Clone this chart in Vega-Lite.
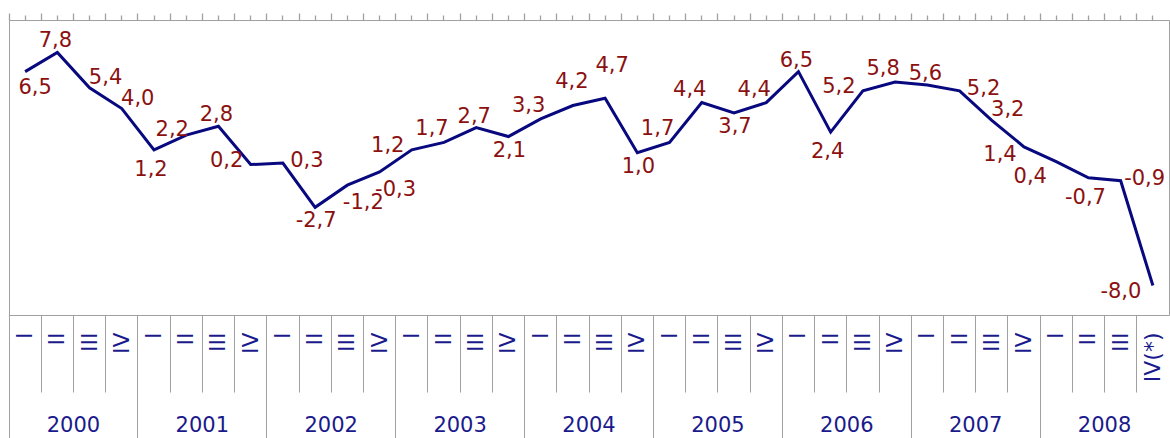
{
  "$schema": "https://vega.github.io/schema/vega-lite/v6.json",
  "width": 1160,
  "height": 295,
  "autosize": "none",
  "padding": {"left": 9, "top": 20, "right": 1, "bottom": 123},
  "background": "white",
  "config": {
    "view": {"stroke": "#a0a0a0", "strokeWidth": 1},
    "font": "DejaVu Sans",
    "text": {"fontSize": 21, "font": "DejaVu Sans", "color": "#8b1111", "align": "center", "baseline": "middle"},
    "locale": {"number": {"decimal": ",", "thousands": ".", "grouping": [3], "currency": ["", ""], "minus": "-"}}
  },
  "data": {"values": [
    {"q": "2000-I", "year": 2000, "value": 6.5},
    {"q": "2000-II", "year": 2000, "value": 7.8},
    {"q": "2000-III", "year": 2000, "value": 5.4},
    {"q": "2000-IV", "year": 2000, "value": 4.0},
    {"q": "2001-I", "year": 2001, "value": 1.2},
    {"q": "2001-II", "year": 2001, "value": 2.2},
    {"q": "2001-III", "year": 2001, "value": 2.8},
    {"q": "2001-IV", "year": 2001, "value": 0.2},
    {"q": "2002-I", "year": 2002, "value": 0.3},
    {"q": "2002-II", "year": 2002, "value": -2.7},
    {"q": "2002-III", "year": 2002, "value": -1.2},
    {"q": "2002-IV", "year": 2002, "value": -0.3},
    {"q": "2003-I", "year": 2003, "value": 1.2},
    {"q": "2003-II", "year": 2003, "value": 1.7},
    {"q": "2003-III", "year": 2003, "value": 2.7},
    {"q": "2003-IV", "year": 2003, "value": 2.1},
    {"q": "2004-I", "year": 2004, "value": 3.3},
    {"q": "2004-II", "year": 2004, "value": 4.2},
    {"q": "2004-III", "year": 2004, "value": 4.7},
    {"q": "2004-IV", "year": 2004, "value": 1.0},
    {"q": "2005-I", "year": 2005, "value": 1.7},
    {"q": "2005-II", "year": 2005, "value": 4.4},
    {"q": "2005-III", "year": 2005, "value": 3.7},
    {"q": "2005-IV", "year": 2005, "value": 4.4},
    {"q": "2006-I", "year": 2006, "value": 6.5},
    {"q": "2006-II", "year": 2006, "value": 2.4},
    {"q": "2006-III", "year": 2006, "value": 5.2},
    {"q": "2006-IV", "year": 2006, "value": 5.8},
    {"q": "2007-I", "year": 2007, "value": 5.6},
    {"q": "2007-II", "year": 2007, "value": 5.2},
    {"q": "2007-III", "year": 2007, "value": 3.2},
    {"q": "2007-IV", "year": 2007, "value": 1.4},
    {"q": "2008-I", "year": 2008, "value": 0.4},
    {"q": "2008-II", "year": 2008, "value": -0.7},
    {"q": "2008-III", "year": 2008, "value": -0.9},
    {"q": "2008-IV(*)", "year": 2008, "value": -8.0}
  ]},
  "layer": [
    {
      "encoding": {
        "x": {
          "field": "q", "type": "ordinal", "sort": null,
          "scale": {"type": "band", "paddingInner": 0, "paddingOuter": 0},
          "axis": {
            "orient": "bottom", "title": null, "domain": false, "grid": false,
            "ticks": true, "tickSize": 77, "tickColor": "#a0a0a0", "tickWidth": 1, "bandPosition": 0,
            "labelExpr": "split(datum.value, '-')[1]",
            "labelAngle": 270, "labelAlign": "right", "labelBaseline": "middle",
            "labelPadding": -60, "labelFontSize": 22, "labelColor": "#1a1a8c",
            "labelFont": "DejaVu Sans", "labelOverlap": false
          }
        },
        "y": {"field": "value", "type": "quantitative", "scale": {"domain": [-10, 10], "nice": false, "zero": false}, "axis": null}
      },
      "layer": [
        {"mark": {"type": "line", "color": "#08087f", "strokeWidth": 3}},
        {
          "encoding": {"text": {"field": "value", "type": "quantitative", "format": ".1f"}},
          "layer": [
            {"transform": [{"filter": {"field": "q", "oneOf": ["2000-II", "2001-III", "2003-III", "2006-I", "2007-I"]}}],
             "mark": {"type": "text", "dx": -2, "dy": -11}},
            {"transform": [{"filter": {"field": "q", "oneOf": ["2004-II"]}}],
             "mark": {"type": "text", "dx": -1, "dy": -24}},
            {"transform": [{"filter": {"field": "q", "oneOf": ["2004-III"]}}],
             "mark": {"type": "text", "dx": 7, "dy": -32}},
            {"transform": [{"filter": {"field": "q", "oneOf": ["2003-II", "2004-I", "2005-I", "2005-II", "2005-IV", "2006-IV"]}}],
             "mark": {"type": "text", "dx": -12, "dy": -13}},
            {"transform": [{"filter": {"field": "q", "oneOf": ["2001-II"]}}],
             "mark": {"type": "text", "dx": -14, "dy": -5}},
            {"transform": [{"filter": {"field": "q", "oneOf": ["2001-IV", "2003-I", "2006-III"]}}],
             "mark": {"type": "text", "dx": -24, "dy": -4}},
            {"transform": [{"filter": {"field": "q", "oneOf": ["2000-III", "2000-IV", "2007-III"]}}],
             "mark": {"type": "text", "dx": 16, "dy": -10}},
            {"transform": [{"filter": {"field": "q", "oneOf": ["2002-I", "2007-II", "2008-III"]}}],
             "mark": {"type": "text", "dx": 24, "dy": -2}},
            {"transform": [{"filter": {"field": "q", "oneOf": ["2002-II", "2003-IV", "2004-IV", "2005-III"]}}],
             "mark": {"type": "text", "dx": 1, "dy": 14}},
            {"transform": [{"filter": {"field": "q", "oneOf": ["2001-I", "2006-II", "2008-II"]}}],
             "mark": {"type": "text", "dx": -3, "dy": 20}},
            {"transform": [{"filter": {"field": "q", "oneOf": ["2000-I"]}}],
             "mark": {"type": "text", "dx": 10, "dy": 16}},
            {"transform": [{"filter": {"field": "q", "oneOf": ["2002-III", "2002-IV"]}}],
             "mark": {"type": "text", "dx": 16, "dy": 18}},
            {"transform": [{"filter": {"field": "q", "oneOf": ["2007-IV"]}}],
             "mark": {"type": "text", "dx": -24, "dy": 8}},
            {"transform": [{"filter": {"field": "q", "oneOf": ["2008-I"]}}],
             "mark": {"type": "text", "dx": -26, "dy": 15}},
            {"transform": [{"filter": {"field": "q", "oneOf": ["2008-IV(*)"]}}],
             "mark": {"type": "text", "dx": -32, "dy": 6}}
          ]
        }
      ]
    },
    {
      "mark": {"type": "point", "opacity": 0},
      "encoding": {
        "x": {
          "field": "year", "type": "ordinal",
          "scale": {"type": "band", "paddingInner": 0, "paddingOuter": 0},
          "axis": {
            "orient": "bottom", "title": null, "domain": false, "grid": false,
            "ticks": true, "tickSize": 123, "tickColor": "#a0a0a0", "tickWidth": 1, "bandPosition": 0,
            "labelAngle": 0, "labelAlign": "center", "labelBaseline": "middle",
            "labelPadding": -13, "labelFontSize": 21, "labelColor": "#1a1a8c",
            "labelFont": "DejaVu Sans", "labelOverlap": false
          }
        }
      }
    },
    {
      "mark": {"type": "point", "opacity": 0},
      "encoding": {
        "x": {
          "field": "q", "type": "ordinal", "sort": null,
          "scale": {"type": "band", "paddingInner": 0, "paddingOuter": 0},
          "axis": {"orient": "top", "title": null, "domain": false, "grid": false, "labels": false,
                   "ticks": true, "tickSize": 7, "tickColor": "#a0a0a0", "tickWidth": 1.3, "bandPosition": 0}
        }
      }
    },
    {
      "mark": {"type": "point", "opacity": 0},
      "encoding": {
        "x": {
          "field": "q", "type": "ordinal", "sort": null,
          "scale": {"type": "band", "paddingInner": 0, "paddingOuter": 0},
          "axis": {"orient": "top", "title": null, "domain": false, "grid": false, "labels": false,
                   "ticks": true, "tickSize": 5, "tickColor": "#a0a0a0", "tickWidth": 1.3, "bandPosition": 0.5}
        }
      }
    }
  ],
  "resolve": {"scale": {"x": "independent"}, "axis": {"x": "independent"}}
}
